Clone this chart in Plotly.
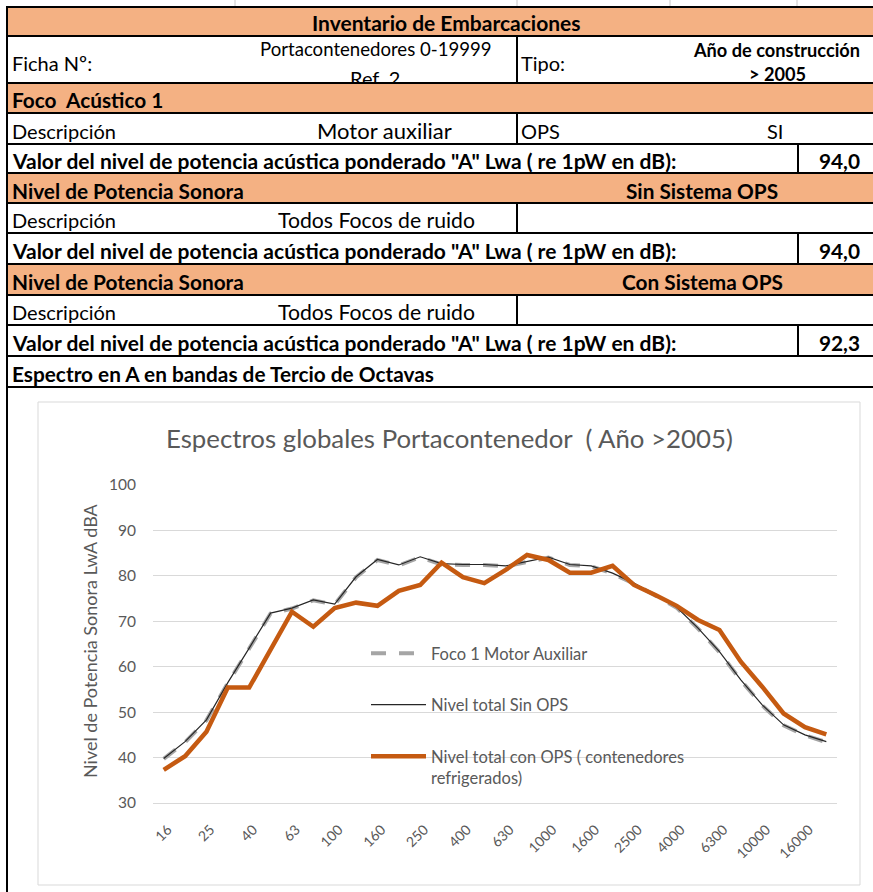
import plotly.graph_objects as go

W, H = 873, 892

# ---------------- data ----------------
bands = ["16", "20", "25", "31.5", "40", "50", "63", "80", "100", "125", "160", "200",
         "250", "315", "400", "500", "630", "800", "1000", "1250", "1600", "2000",
         "2500", "3150", "4000", "5000", "6300", "8000", "10000", "12500", "16000", "20000"]

foco1_motor_aux = [39.7, 43.4, 48.2, 56.4, 64.0, 71.7, 72.8, 74.6, 73.7, 79.7, 83.5, 82.3,
                   84.1, 82.5, 82.4, 82.4, 82.1, 83.0, 84.0, 82.4, 82.1, 80.5, 78.3, 75.7,
                   73.0, 68.4, 63.2, 57.0, 51.5, 47.1, 44.9, 43.4]
total_sin_ops = [39.8, 43.5, 48.3, 56.5, 64.1, 71.8, 72.9, 74.7, 73.8, 79.8, 83.6, 82.4,
                 84.2, 82.7, 82.5, 82.5, 82.2, 83.1, 84.1, 82.5, 82.2, 80.6, 78.4, 75.8,
                 73.1, 68.5, 63.3, 57.1, 51.6, 47.2, 45.0, 43.5]
total_con_ops = [37.3, 40.3, 45.7, 55.4, 55.4, 63.7, 72.1, 68.8, 72.9, 74.1, 73.4, 76.7,
                 78.0, 82.9, 79.7, 78.4, 81.3, 84.6, 83.5, 80.7, 80.7, 82.2, 78.0, 75.8,
                 73.4, 70.3, 68.1, 61.1, 55.6, 49.7, 46.7, 45.1]

series_names = ["Foco 1 Motor Auxiliar", "Nivel total Sin OPS",
                "Nivel total con OPS ( contenedores<br>refrigerados)"]
tick_labels = bands[::2]
y_ticks = [30, 40, 50, 60, 70, 80, 90, 100]

chart_title = "Espectros globales Portacontenedor  ( Año >2005)"
y_title = "Nivel de Potencia Sonora LwA dBA"

# table contents
t_header = "Inventario de Embarcaciones"
t_ficha = ["Ficha Nº:", "Portacontenedores 0-19999", "Ref. 2", "Tipo:", "Año de construcción", "> 2005"]
t_foco = "Foco  Acústico 1"
t_desc_foco = ["Descripción", "Motor auxiliar", "OPS", "SI"]
t_valor = 'Valor del nivel de potencia acústica ponderado "A" Lwa ( re 1pW en dB):'
lwa_values = ["94,0", "94,0", "92,3"]
t_nivel = "Nivel de Potencia Sonora"
t_sistemas = ["Sin Sistema OPS", "Con Sistema OPS"]
t_todos = ["Descripción", "Todos Focos de ruido"]
t_espectro = "Espectro en A en bandas de Tercio de Octavas"

# ---------------- helpers ----------------
def px(x):
    return x / W

def py(y):
    return 1 - y / H

FONT = "Lato"
ORANGE_FILL = "#F4B183"
shapes = []
annotations = []

def hline(y, x0=7, x1=W, color="black", width=2):
    shapes.append(dict(type="line", xref="paper", yref="paper", x0=px(x0), x1=px(x1),
                       y0=py(y), y1=py(y), line=dict(color=color, width=width)))

def vline(x, y0, y1, color="black", width=2):
    shapes.append(dict(type="line", xref="paper", yref="paper", x0=px(x), x1=px(x),
                       y0=py(y0), y1=py(y1), line=dict(color=color, width=width)))

def fillrow(y0, y1):
    shapes.append(dict(type="rect", xref="paper", yref="paper", x0=px(7), x1=px(W),
                       y0=py(y1), y1=py(y0), fillcolor=ORANGE_FILL, line=dict(width=0),
                       layer="below"))

def text(t, x, y, anchor="left", bold=False, size=None, **kw):
    if size is None:
        size = 20.8 if bold else 20
    d = dict(text=t, x=px(x), y=py(y), xref="paper", yref="paper", xanchor=anchor,
             yanchor=kw.pop("yanchor", "middle"), showarrow=False,
             font=dict(family=FONT, size=size, color="black",
                       weight="bold" if bold else "normal"))
    d.update(kw)
    annotations.append(d)

# ---------------- table ----------------
rows = [7, 36, 83, 113, 144, 173, 203, 233, 264, 295, 325, 356, 387]
for a, b in [(7, 36), (83, 113), (173, 203), (264, 295)]:
    fillrow(a, b)
for y in rows:
    hline(y)
vline(7, 6, H)
for a, b in [(36, 83), (113, 144), (203, 233), (295, 325)]:
    vline(517, a, b)
for a, b in [(144, 173), (233, 264), (325, 356)]:
    vline(798, a, b)
for x in [235, 517, 670, 797]:
    vline(x, 0, 6, color="#C8C8C8", width=1)

def mid(i):
    return (rows[i] + rows[i + 1]) / 2 + 2

text(t_header, 447, mid(0) - 1, anchor="center", bold=True, size=21)
text(t_ficha[0], 10, 63)
text(t_ficha[1], 376, 49, anchor="center", size=18.6)
text(t_ficha[2], 375, 66, anchor="center", yanchor="top", height=17, valign="top",
     borderwidth=0, borderpad=0)
text(t_ficha[3], 519, 63)
text(t_ficha[4], 776, 50, anchor="center", bold=True, size=18.2)
text(t_ficha[5], 777, 74, anchor="center", bold=True, size=18.2)
text(t_foco, 10, mid(2), bold=True)
text(t_desc_foco[0], 10, mid(3))
text(t_desc_foco[1], 384, mid(3), anchor="center", size=22)
text(t_desc_foco[2], 519, mid(3))
text(t_desc_foco[3], 775, mid(3), anchor="center")
for i, v in zip([4, 7, 10], lwa_values):
    text(t_valor, 10, mid(i), bold=True, size=21)
    text(v, 862, mid(i), anchor="right", bold=True)
for i, s in zip([5, 8], t_sistemas):
    text(t_nivel, 10, mid(i), bold=True)
    text(s, 702, mid(i), anchor="center", bold=True)
for i in [6, 9]:
    text(t_todos[0], 10, mid(i))
    text(t_todos[1], 376, mid(i), anchor="center", size=21.2)
text(t_espectro, 10, mid(11), bold=True)

# chart frame
shapes.append(dict(type="rect", xref="paper", yref="paper", x0=px(38), x1=px(860),
                   y0=py(885), y1=py(402), line=dict(color="#D9D9D9", width=1),
                   fillcolor="rgba(0,0,0,0)", layer="below"))

# chart title and y-axis title
annotations.append(dict(text=chart_title, x=px(450), y=py(438), xref="paper", yref="paper",
                        xanchor="center", yanchor="middle", showarrow=False,
                        font=dict(family=FONT, size=25.8, color="#595959")))
annotations.append(dict(text=y_title, x=px(90), y=py(641), xref="paper", yref="paper",
                        xanchor="center", yanchor="middle", showarrow=False, textangle=-90,
                        font=dict(family=FONT, size=18, color="#595959")))

# ---------------- chart ----------------
fig = go.Figure()
fig.add_trace(go.Scatter(x=bands, y=foco1_motor_aux, mode="lines", name=series_names[0],
                         legendgroup="g1",
                         line=dict(color="#A5A5A5", width=4, dash="15px,13px")))
fig.add_trace(go.Scatter(x=bands, y=total_sin_ops, mode="lines", name=series_names[1],
                         legendgroup="g2", line=dict(color="#262626", width=1.2)))
fig.add_trace(go.Scatter(x=bands, y=total_con_ops, mode="lines", name=series_names[2],
                         legendgroup="g3", line=dict(color="#C55A11", width=4.5)))

fig.update_layout(
    width=W, height=H, margin=dict(l=0, r=0, t=0, b=0, autoexpand=False),
    paper_bgcolor="white", plot_bgcolor="white",
    font=dict(family=FONT, color="#595959"),
    shapes=shapes, annotations=annotations,
    showlegend=True,
    legend=dict(x=px(366), y=py(636), xanchor="left", yanchor="top",
                bgcolor="rgba(0,0,0,0)", font=dict(family=FONT, size=16.5, color="#595959"),
                tracegroupgap=27, valign="top", itemwidth=55, traceorder="grouped"),
    xaxis=dict(domain=[px(153), px(837)], type="category", categoryarray=bands,
               range=[-0.5, len(bands) - 0.5],
               tickmode="array", tickvals=tick_labels, ticktext=tick_labels,
               tickangle=-45, showgrid=False, showline=True, linecolor="#D9D9D9",
               ticks="", tickfont=dict(family=FONT, size=14, color="#595959"),
               ticklabelstandoff=12, ticklabelshift=4, fixedrange=True),
    yaxis=dict(domain=[py(803), py(485)], range=[30, 100], tickmode="array",
               tickvals=y_ticks, showgrid=True, gridcolor="#D9D9D9", gridwidth=1,
               zeroline=False, ticks="", showline=False,
               tickfont=dict(family=FONT, size=15.5, color="#595959"),
               ticklabelstandoff=16, fixedrange=True),
)

fig.write_html("out.html", config={"displayModeBar": False},
               post_script="document.documentElement.style.margin='0';document.body.style.margin='0';")
